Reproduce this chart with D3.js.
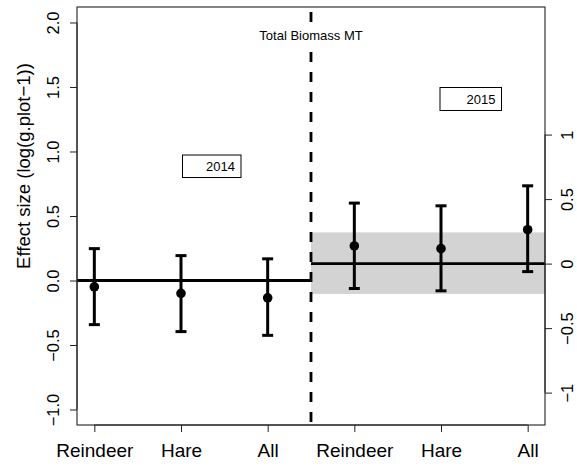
<!DOCTYPE html>
<html>
<head>
<meta charset="utf-8">
<script src="https://cdn.jsdelivr.net/npm/d3@7"></script>
<style>
  html, body { margin: 0; padding: 0; background: #fff; }
  svg { display: block; }
  text { font-family: "Liberation Sans", Arial, Helvetica, sans-serif; fill: #000; }
</style>
</head>
<body>
<svg id="chart" width="577" height="466"></svg>
<script>
// ---- data ----
const categories = ["Reindeer", "Hare", "All", "Reindeer", "Hare", "All"];
const positions  = [1, 2, 3, 4, 5, 6];
const effectMean  = [-0.049, -0.100, -0.134, 0.268, 0.247, 0.394];
const effectUpper = [0.247, 0.193, 0.168, 0.600, 0.579, 0.734];
const effectLower = [-0.342, -0.396, -0.425, -0.062, -0.080, 0.069];
const years      = ["2014", "2015"];
const yearMean   = [0.0, 0.131];
const yearSpan   = [[0.8, 3.5], [3.5, 6.2]];
const band2015   = [-0.104, 0.373];
const leftTicks  = [-1.0, -0.5, 0.0, 0.5, 1.0, 1.5, 2.0];
const leftLabels = ["\u22121.0", "\u22120.5", "0.0", "0.5", "1.0", "1.5", "2.0"];
const rightTicks = [-1, -0.5, 0, 0.5, 1];
const rightLabels = ["\u22121", "\u22120.5", "0", "0.5", "1"];
const divider = 3.5;
const titleText = "Total Biomass MT";
const yLabel = "Effect size (log(g.plot\u22121))";

// ---- layout ----
const svg = d3.select("#chart");
const L = 77, R = 545, T = 7, B = 425;
const x = d3.scaleLinear().domain([0.8, 6.2]).range([L, R]);
const y = d3.scaleLinear().domain([-1.12, 2.12]).range([B, T]);

// band (2015 CI of mean)
svg.append("rect")
  .attr("x", x(divider)).attr("width", x(6.2) - x(divider))
  .attr("y", y(band2015[1])).attr("height", y(band2015[0]) - y(band2015[1]))
  .attr("fill", "#d3d3d3");

// year mean lines
svg.selectAll("line.mean").data(yearMean).enter().append("line")
  .attr("class", "mean")
  .attr("x1", (d, i) => x(yearSpan[i][0])).attr("x2", (d, i) => x(yearSpan[i][1]))
  .attr("y1", d => y(d)).attr("y2", d => y(d))
  .attr("stroke", "#000").attr("stroke-width", 2.8);

// dashed divider
svg.append("line")
  .attr("x1", x(divider)).attr("x2", x(divider))
  .attr("y1", T).attr("y2", B)
  .attr("stroke", "#000").attr("stroke-width", 2.8)
  .attr("stroke-dasharray", "10,10").attr("stroke-dashoffset", 15);

// title with white background
const titleG = svg.append("g");
titleG.append("rect").attr("x", 252).attr("y", 24).attr("width", 118).attr("height", 23).attr("fill", "#fff");
titleG.append("text").attr("x", x(divider)).attr("y", 40)
  .attr("text-anchor", "middle").attr("font-size", 13).text(titleText);

// error bars
const capW = 5.5;
const g = svg.append("g");
positions.forEach((p, i) => {
  const cx = x(p);
  g.append("line").attr("x1", cx).attr("x2", cx)
    .attr("y1", y(effectUpper[i])).attr("y2", y(effectLower[i]))
    .attr("stroke", "#000").attr("stroke-width", 3);
  [effectUpper[i], effectLower[i]].forEach(v => {
    g.append("line").attr("x1", cx - capW).attr("x2", cx + capW)
      .attr("y1", y(v)).attr("y2", y(v))
      .attr("stroke", "#000").attr("stroke-width", 3);
  });
});
svg.selectAll("circle.pt").data(effectMean).enter().append("circle")
  .attr("class", "pt")
  .attr("cx", (d, i) => x(positions[i])).attr("cy", d => y(d))
  .attr("r", 4.8).attr("fill", "#000");

// year legend boxes
const legendBoxes = [
  {x0: 182.5, y0: 155, w: 58.5, h: 22.5},
  {x0: 440, y0: 87.5, w: 61.5, h: 23}
];
years.forEach((yr, i) => {
  const b = legendBoxes[i];
  svg.append("rect").attr("x", b.x0).attr("y", b.y0).attr("width", b.w).attr("height", b.h)
    .attr("fill", "#fff").attr("stroke", "#000").attr("stroke-width", 1);
  svg.append("text").attr("x", b.x0 + b.w - 6).attr("y", b.y0 + b.h / 2 + 4.6)
    .attr("text-anchor", "end").attr("font-size", 13).text(yr);
});

// plot box
svg.append("rect").attr("x", L).attr("y", T).attr("width", R - L).attr("height", B - T)
  .attr("fill", "none").attr("stroke", "#222").attr("stroke-width", 1.1);

// left axis
const left = svg.append("g").attr("transform", `translate(${L},0)`)
  .call(d3.axisLeft(y).tickValues(leftTicks).tickSize(7).tickFormat((d, i) => leftLabels[i]));
left.select(".domain").attr("d", `M-7,${y(-1)}H0V${y(2)}H-7`).attr("stroke", "#222").attr("stroke-width", 1).attr("d", `M0,${y(-1)}V${y(2)}`);
left.selectAll(".tick line").attr("stroke", "#222").attr("stroke-width", 1);
left.selectAll(".tick text")
  .attr("font-size", 16.5).attr("font-family", "Liberation Sans, Arial, sans-serif")
  .attr("text-anchor", "middle").attr("dy", null).attr("x", null)
  .attr("transform", "translate(-18,0) rotate(-90)")
  .attr("fill", "#000");

// right axis (relative to 2015 mean)
const right = svg.append("g").attr("transform", `translate(${R},0)`)
  .call(d3.axisRight(y).tickValues(rightTicks.map(v => v + yearMean[1])).tickSize(7)
    .tickFormat((d, i) => rightLabels[i]));
right.select(".domain").attr("d", `M0,${y(-1 + yearMean[1])}V${y(1 + yearMean[1])}`).attr("stroke", "#222");
right.selectAll(".tick line").attr("stroke", "#222").attr("stroke-width", 1);
right.selectAll(".tick text")
  .attr("font-size", 16.5).attr("font-family", "Liberation Sans, Arial, sans-serif")
  .attr("text-anchor", "middle").attr("dy", null).attr("x", null)
  .attr("transform", "translate(28,0) rotate(-90)")
  .attr("fill", "#000");

// bottom axis
const bottom = svg.append("g").attr("transform", `translate(0,${B})`)
  .call(d3.axisBottom(x).tickValues(positions).tickSize(7).tickFormat((d, i) => categories[i]));
bottom.select(".domain").attr("d", `M${x(1)},0H${x(6)}`).attr("stroke", "#222");
bottom.selectAll(".tick line").attr("stroke", "#222").attr("stroke-width", 1);
bottom.selectAll(".tick text")
  .attr("font-size", 19).attr("font-family", "Liberation Sans, Arial, sans-serif")
  .attr("dy", null).attr("y", 32).attr("fill", "#000");

// y axis title
svg.append("text").attr("transform", "translate(30,166) rotate(-90)")
  .attr("text-anchor", "middle").attr("font-size", 18.5).text(yLabel);
</script>
</body>
</html>
